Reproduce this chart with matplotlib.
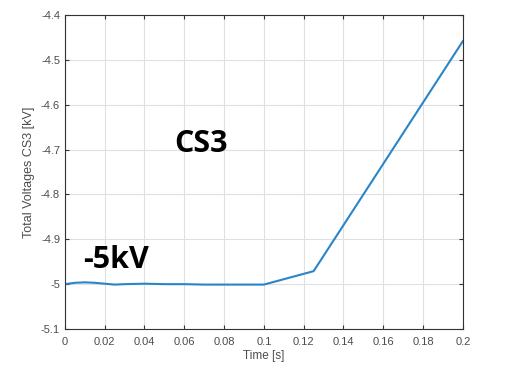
import numpy as np
import matplotlib.pyplot as plt

plt.rcParams['font.family'] = ['Liberation Sans', 'DejaVu Sans']

time_s = [0.0, 0.005, 0.01, 0.015, 0.02, 0.025, 0.03, 0.04, 0.05, 0.06, 0.07, 0.08, 0.09, 0.1, 0.125, 0.2]
voltage_kv = [-5.0, -4.997, -4.996, -4.997, -4.999, -5.001, -5.0, -4.999, -5.0, -5.0, -5.001, -5.001, -5.001, -5.001, -4.971, -4.458]

xticks = [0, 0.02, 0.04, 0.06, 0.08, 0.1, 0.12, 0.14, 0.16, 0.18, 0.2]
xtick_labels = ['0', '0.02', '0.04', '0.06', '0.08', '0.1', '0.12', '0.14', '0.16', '0.18', '0.2']
yticks = [-5.1, -5.0, -4.9, -4.8, -4.7, -4.6, -4.5, -4.4]
ytick_labels = ['-5.1', '-5', '-4.9', '-4.8', '-4.7', '-4.6', '-4.5', '-4.4']

fig = plt.figure(figsize=(5.07, 3.68), dpi=100)
ax = fig.add_axes([0.128, 0.106, 0.785, 0.853])

ax.plot(time_s, voltage_kv, color='#2a85c8', linewidth=1.5)

ax.set_xlim(0, 0.2)
ax.set_ylim(-5.1, -4.4)
ax.set_xticks(xticks)
ax.set_xticklabels(xtick_labels)
ax.set_yticks(yticks)
ax.set_yticklabels(ytick_labels)
ax.grid(True, color='#e0e0e0', linewidth=0.8)
ax.set_axisbelow(True)

ax.tick_params(direction='in', top=True, right=True, labelsize=8,
               colors='#333333', labelcolor='#4d4d4d', length=3)
ax.tick_params(axis='x', pad=6)
for s in ax.spines.values():
    s.set_color('#333333')
    s.set_linewidth(0.8)

ax.set_xlabel('Time [s]', fontsize=8.5, color='#4d4d4d', labelpad=2)
ax.set_ylabel('Total Voltages CS3 [kV]', fontsize=9, color='#4d4d4d', labelpad=4)

ax.text(0.055, -4.705, 'CS3', fontsize=22, fontweight='bold', va='baseline',
        family=['Open Sans', 'DejaVu Sans'])
ax.text(0.009, -4.964, '-5kV', fontsize=22, fontweight='bold', va='baseline',
        family=['Open Sans', 'DejaVu Sans'])

plt.savefig('out.png', dpi=100)
